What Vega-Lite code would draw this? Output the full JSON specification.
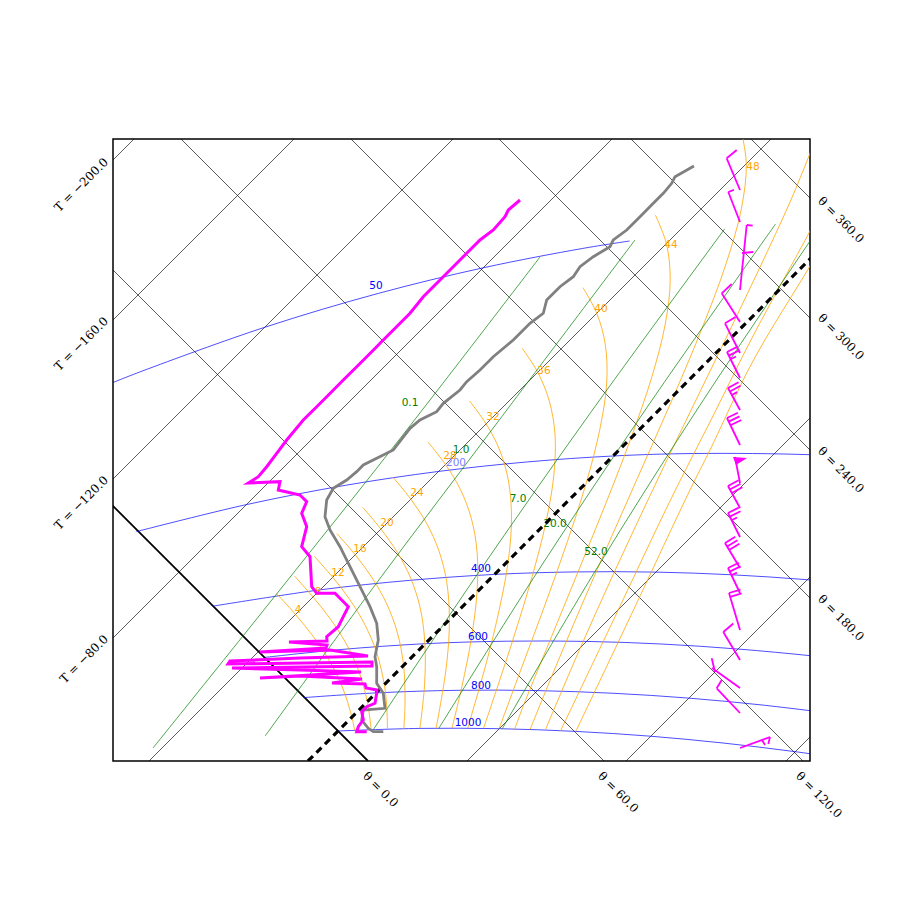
{
  "$schema": "https://vega.github.io/schema/vega-lite/v6.json",
  "width": 697,
  "height": 622,
  "autosize": {"type": "none"},
  "padding": {"left": 113, "top": 139, "right": 90, "bottom": 139},
  "background": "white",
  "config": {"view": {"stroke": "black", "strokeWidth": 1.5}},
  "datasets": {
    "gridThin": [
      {"x": -601, "y": 0, "x2": 21, "y2": 622},
      {"x": -441, "y": 0, "x2": 181, "y2": 622},
      {"x": -282, "y": 0, "x2": 340, "y2": 622},
      {"x": -123, "y": 0, "x2": 499, "y2": 622},
      {"x": 36, "y": 0, "x2": 658, "y2": 622},
      {"x": 354, "y": 0, "x2": 976, "y2": 622},
      {"x": 513, "y": 0, "x2": 1135, "y2": 622},
      {"x": 673, "y": 0, "x2": 1295, "y2": 622},
      {"x": 491, "y": 0, "x2": -131, "y2": 622},
      {"x": 690, "y": 0, "x2": 68, "y2": 622},
      {"x": 860, "y": 0, "x2": 238, "y2": 622},
      {"x": 1008, "y": 0, "x2": 386, "y2": 622},
      {"x": 1140, "y": 0, "x2": 518, "y2": 622},
      {"x": 1260, "y": 0, "x2": 638, "y2": 622}
    ],
    "gridTheta0": [{"x": 255, "y": 0, "x2": -367, "y2": 622}],
    "gridT0": [{"x": 195, "y": 0, "x2": 817, "y2": 622}],
    "isobars": [
      {"p": 1000, "i": 0, "x": 225, "y": 30}, {"p": 1000, "i": 1, "x": 307, "y": 32.6}, {"p": 1000, "i": 2, "x": 386.1, "y": 32.3}, {"p": 1000, "i": 3, "x": 462.8, "y": 29.6}, {"p": 1000, "i": 4, "x": 537.4, "y": 24.8}, {"p": 1000, "i": 5, "x": 610, "y": 18}, {"p": 1000, "i": 6, "x": 680.9, "y": 9.5}, {"p": 1000, "i": 7, "x": 750.3, "y": -0.5},
      {"p": 800, "i": 0, "x": 190.9, "y": 63.4}, {"p": 800, "i": 1, "x": 263.1, "y": 68.1}, {"p": 800, "i": 2, "x": 345.1, "y": 70.7}, {"p": 800, "i": 3, "x": 424.2, "y": 70.4}, {"p": 800, "i": 4, "x": 500.9, "y": 67.7}, {"p": 800, "i": 5, "x": 575.5, "y": 62.9}, {"p": 800, "i": 6, "x": 648.1, "y": 56.1}, {"p": 800, "i": 7, "x": 719, "y": 47.6},
      {"p": 600, "i": 0, "x": 151.7, "y": 103.6}, {"p": 600, "i": 1, "x": 227, "y": 111.4}, {"p": 600, "i": 2, "x": 312.3, "y": 117.3}, {"p": 600, "i": 3, "x": 394.2, "y": 119.8}, {"p": 600, "i": 4, "x": 473.4, "y": 119.6}, {"p": 600, "i": 5, "x": 550.1, "y": 116.9}, {"p": 600, "i": 6, "x": 624.6, "y": 112}, {"p": 600, "i": 7, "x": 697.3, "y": 105.3}, {"p": 600, "i": 8, "x": 732.9, "y": 101.2},
      {"p": 400, "i": 0, "x": 99.7, "y": 154.8}, {"p": 400, "i": 1, "x": 207.4, "y": 171.2}, {"p": 400, "i": 2, "x": 296.3, "y": 180.6}, {"p": 400, "i": 3, "x": 381.6, "y": 186.6}, {"p": 400, "i": 4, "x": 463.5, "y": 189.1}, {"p": 400, "i": 5, "x": 542.7, "y": 188.9}, {"p": 400, "i": 6, "x": 619.4, "y": 186.2}, {"p": 400, "i": 7, "x": 693.9, "y": 181.3}, {"p": 400, "i": 8, "x": 766.6, "y": 174.6},
      {"p": 200, "i": 0, "x": 23.4, "y": 229.4}, {"p": 200, "i": 1, "x": 133.9, "y": 256.5}, {"p": 200, "i": 2, "x": 232.5, "y": 275.7}, {"p": 200, "i": 3, "x": 325.8, "y": 289.6}, {"p": 200, "i": 4, "x": 414.7, "y": 299.1}, {"p": 200, "i": 5, "x": 500, "y": 305}, {"p": 200, "i": 6, "x": 581.9, "y": 307.5}, {"p": 200, "i": 7, "x": 699.7, "y": 306.2}, {"p": 200, "i": 8, "x": 812.3, "y": 299.7},
      {"p": 50, "i": 0, "x": -3.7, "y": 377}, {"p": 50, "i": 1, "x": 29.1, "y": 389.9}, {"p": 50, "i": 2, "x": 152.6, "y": 434}, {"p": 50, "i": 3, "x": 265.7, "y": 467.7}, {"p": 50, "i": 4, "x": 370.7, "y": 493.3}, {"p": 50, "i": 5, "x": 469.3, "y": 512.5}, {"p": 50, "i": 6, "x": 516.6, "y": 520}
    ],
    "mixr": [
      {"w": 0.1, "i": 0, "x": 40, "y": 13}, {"w": 0.1, "i": 1, "x": 162, "y": 165}, {"w": 0.1, "i": 2, "x": 289, "y": 325}, {"w": 0.1, "i": 3, "x": 427, "y": 504},
      {"w": 1, "i": 0, "x": 152.3, "y": 25.2}, {"w": 1, "i": 1, "x": 263.3, "y": 177.6}, {"w": 1, "i": 2, "x": 385.6, "y": 340.1}, {"w": 1, "i": 3, "x": 522, "y": 521},
      {"w": 7, "i": 0, "x": 260.4, "y": 31.5}, {"w": 7, "i": 1, "x": 363.6, "y": 185.6}, {"w": 7, "i": 2, "x": 478.4, "y": 349.5}, {"w": 7, "i": 3, "x": 611.7, "y": 532.1},
      {"w": 20, "i": 0, "x": 325.8, "y": 32.7}, {"w": 20, "i": 1, "x": 423.9, "y": 188.3}, {"w": 20, "i": 2, "x": 533.8, "y": 353.3}, {"w": 20, "i": 3, "x": 662.5, "y": 536.9},
      {"w": 52, "i": 0, "x": 389.2, "y": 32.2}, {"w": 52, "i": 1, "x": 481.8, "y": 189.3}, {"w": 52, "i": 2, "x": 586.9, "y": 355.7}, {"w": 52, "i": 3, "x": 710.9, "y": 540.3}
    ],
    "wadi": [
      {"tw": 4, "i": 0, "x": 241.6, "y": 30.7}, {"tw": 4, "i": 1, "x": 238.9, "y": 43.9}, {"tw": 4, "i": 2, "x": 229.3, "y": 74}, {"tw": 4, "i": 3, "x": 216.2, "y": 100.6}, {"tw": 4, "i": 4, "x": 200.3, "y": 124.4}, {"tw": 4, "i": 5, "x": 182.6, "y": 146.4}, {"tw": 4, "i": 6, "x": 163.8, "y": 167.3},
      {"tw": 8, "i": 0, "x": 258.2, "y": 31.4}, {"tw": 8, "i": 1, "x": 254.3, "y": 59.3}, {"tw": 8, "i": 2, "x": 245.6, "y": 90.3}, {"tw": 8, "i": 3, "x": 233.1, "y": 117.5}, {"tw": 8, "i": 4, "x": 217.6, "y": 141.7}, {"tw": 8, "i": 5, "x": 200.1, "y": 163.9}, {"tw": 8, "i": 6, "x": 181.5, "y": 184.9},
      {"tw": 12, "i": 0, "x": 274.5, "y": 31.9}, {"tw": 12, "i": 1, "x": 273.7, "y": 54.9}, {"tw": 12, "i": 2, "x": 271.3, "y": 76.3}, {"tw": 12, "i": 3, "x": 263.7, "y": 108.4}, {"tw": 12, "i": 4, "x": 251.9, "y": 136.3}, {"tw": 12, "i": 5, "x": 237, "y": 161.1}, {"tw": 12, "i": 6, "x": 219.8, "y": 183.6}, {"tw": 12, "i": 7, "x": 201.3, "y": 204.8},
      {"tw": 16, "i": 0, "x": 290.8, "y": 32.3}, {"tw": 16, "i": 1, "x": 292, "y": 57.3}, {"tw": 16, "i": 2, "x": 290.6, "y": 95.6}, {"tw": 16, "i": 3, "x": 284.2, "y": 128.9}, {"tw": 16, "i": 4, "x": 273.4, "y": 157.8}, {"tw": 16, "i": 5, "x": 259.1, "y": 183.2}, {"tw": 16, "i": 6, "x": 242.3, "y": 206.1}, {"tw": 16, "i": 7, "x": 223.9, "y": 227.4},
      {"tw": 20, "i": 0, "x": 306.9, "y": 32.5}, {"tw": 20, "i": 1, "x": 311.6, "y": 76.9}, {"tw": 20, "i": 2, "x": 311.9, "y": 116.9}, {"tw": 20, "i": 3, "x": 307.4, "y": 152.1}, {"tw": 20, "i": 4, "x": 297.9, "y": 182.3}, {"tw": 20, "i": 5, "x": 284.4, "y": 208.5}, {"tw": 20, "i": 6, "x": 268, "y": 231.8}, {"tw": 20, "i": 7, "x": 249.9, "y": 253.4},
      {"tw": 24, "i": 0, "x": 323, "y": 32.7}, {"tw": 24, "i": 1, "x": 326.7, "y": 52.3}, {"tw": 24, "i": 2, "x": 333.9, "y": 99.2}, {"tw": 24, "i": 3, "x": 336.4, "y": 141.4}, {"tw": 24, "i": 4, "x": 333.8, "y": 178.5}, {"tw": 24, "i": 5, "x": 325.9, "y": 210.3}, {"tw": 24, "i": 6, "x": 313.6, "y": 237.7}, {"tw": 24, "i": 7, "x": 297.9, "y": 261.7}, {"tw": 24, "i": 8, "x": 280.1, "y": 283.6},
      {"tw": 28, "i": 0, "x": 338.9, "y": 32.7}, {"tw": 28, "i": 1, "x": 348.9, "y": 74.5}, {"tw": 28, "i": 2, "x": 358.6, "y": 123.9}, {"tw": 28, "i": 3, "x": 364, "y": 168.9}, {"tw": 28, "i": 4, "x": 364.1, "y": 208.8}, {"tw": 28, "i": 5, "x": 358.3, "y": 242.7}, {"tw": 28, "i": 6, "x": 347.4, "y": 271.5}, {"tw": 28, "i": 7, "x": 332.6, "y": 296.4}, {"tw": 28, "i": 8, "x": 315.2, "y": 318.7},
      {"tw": 32, "i": 0, "x": 354.7, "y": 32.7}, {"tw": 32, "i": 1, "x": 358, "y": 44}, {"tw": 32, "i": 2, "x": 373.6, "y": 99.2}, {"tw": 32, "i": 3, "x": 386.3, "y": 151.6}, {"tw": 32, "i": 4, "x": 395.3, "y": 200.3}, {"tw": 32, "i": 5, "x": 398.5, "y": 243.2}, {"tw": 32, "i": 6, "x": 395.5, "y": 279.9}, {"tw": 32, "i": 7, "x": 386.7, "y": 310.8}, {"tw": 32, "i": 8, "x": 373.2, "y": 337}, {"tw": 32, "i": 9, "x": 356.5, "y": 360},
      {"tw": 36, "i": 0, "x": 370.5, "y": 32.6}, {"tw": 36, "i": 1, "x": 382.6, "y": 68.5}, {"tw": 36, "i": 2, "x": 401.9, "y": 127.5}, {"tw": 36, "i": 3, "x": 419.1, "y": 184.4}, {"tw": 36, "i": 4, "x": 432.7, "y": 237.7}, {"tw": 36, "i": 5, "x": 440.8, "y": 285.5}, {"tw": 36, "i": 6, "x": 442, "y": 326.4}, {"tw": 36, "i": 7, "x": 436.2, "y": 360.3}, {"tw": 36, "i": 8, "x": 424.8, "y": 388.6}, {"tw": 36, "i": 9, "x": 409.2, "y": 412.7},
      {"tw": 40, "i": 0, "x": 386.1, "y": 32.3}, {"tw": 40, "i": 1, "x": 409.3, "y": 95.2}, {"tw": 40, "i": 2, "x": 432.8, "y": 158.3}, {"tw": 40, "i": 3, "x": 454.5, "y": 219.8}, {"tw": 40, "i": 4, "x": 473.3, "y": 278.3}, {"tw": 40, "i": 5, "x": 486.8, "y": 331.5}, {"tw": 40, "i": 6, "x": 493.7, "y": 378.1}, {"tw": 40, "i": 7, "x": 492.3, "y": 416.4}, {"tw": 40, "i": 8, "x": 483.8, "y": 447.6}, {"tw": 40, "i": 9, "x": 469.9, "y": 473.4},
      {"tw": 44, "i": 0, "x": 401.6, "y": 31.9}, {"tw": 44, "i": 1, "x": 411.2, "y": 57.4}, {"tw": 44, "i": 2, "x": 438.6, "y": 124.5}, {"tw": 44, "i": 3, "x": 466.1, "y": 191.7}, {"tw": 44, "i": 4, "x": 493.2, "y": 258.5}, {"tw": 44, "i": 5, "x": 518, "y": 323}, {"tw": 44, "i": 6, "x": 538.6, "y": 383.3}, {"tw": 44, "i": 7, "x": 552.2, "y": 436.6}, {"tw": 44, "i": 8, "x": 557.2, "y": 481.3}, {"tw": 44, "i": 9, "x": 553.4, "y": 517.3}, {"tw": 44, "i": 10, "x": 542.4, "y": 545.9},
      {"tw": 48, "i": 0, "x": 417.1, "y": 31.5}, {"tw": 48, "i": 1, "x": 438.9, "y": 85.1}, {"tw": 48, "i": 2, "x": 467.8, "y": 153.7}, {"tw": 48, "i": 3, "x": 498.5, "y": 224.1}, {"tw": 48, "i": 4, "x": 529.9, "y": 295.2}, {"tw": 48, "i": 5, "x": 561.3, "y": 366.3}, {"tw": 48, "i": 6, "x": 589.7, "y": 434.4}, {"tw": 48, "i": 7, "x": 613.2, "y": 497.6}, {"tw": 48, "i": 8, "x": 628.4, "y": 552.4}, {"tw": 48, "i": 9, "x": 633.3, "y": 597}, {"tw": 48, "i": 10, "x": 628, "y": 631.8},
      {"tw": 52, "i": 0, "x": 432.4, "y": 31}, {"tw": 52, "i": 1, "x": 438, "y": 44.5}, {"tw": 52, "i": 2, "x": 467.6, "y": 113.8}, {"tw": 52, "i": 3, "x": 499.9, "y": 185.8}, {"tw": 52, "i": 4, "x": 534.5, "y": 260.1}, {"tw": 52, "i": 5, "x": 571, "y": 336.3}, {"tw": 52, "i": 6, "x": 608.5, "y": 413.5}, {"tw": 52, "i": 7, "x": 645.2, "y": 490}, {"tw": 52, "i": 8, "x": 678.9, "y": 563.3}, {"tw": 52, "i": 9, "x": 705.9, "y": 630.1},
      {"tw": 56, "i": 0, "x": 447.6, "y": 30.3}, {"tw": 56, "i": 1, "x": 500, "y": 140}, {"tw": 56, "i": 2, "x": 558, "y": 262}, {"tw": 56, "i": 3, "x": 600, "y": 345}, {"tw": 56, "i": 4, "x": 640, "y": 425}, {"tw": 56, "i": 5, "x": 697, "y": 530}, {"tw": 56, "i": 6, "x": 720, "y": 575},
      {"tw": 60, "i": 0, "x": 462.8, "y": 29.6}, {"tw": 60, "i": 1, "x": 520, "y": 150}, {"tw": 60, "i": 2, "x": 577, "y": 271}, {"tw": 60, "i": 3, "x": 597, "y": 311}, {"tw": 60, "i": 4, "x": 640, "y": 400}, {"tw": 60, "i": 5, "x": 697, "y": 495}, {"tw": 60, "i": 6, "x": 720, "y": 535}
    ],
    "temp": [
      {"i": 0, "x": 581, "y": 595}, {"i": 1, "x": 562, "y": 584.3}, {"i": 2, "x": 558.7, "y": 577.7}, {"i": 3, "x": 550.3, "y": 567.7}, {"i": 4, "x": 540.3, "y": 557.7}, {"i": 5, "x": 527, "y": 544.3}, {"i": 6, "x": 513.7, "y": 531}, {"i": 7, "x": 500.3, "y": 521}, {"i": 8, "x": 497, "y": 514.3}, {"i": 9, "x": 480.3, "y": 504.3},
      {"i": 10, "x": 467, "y": 494.3}, {"i": 11, "x": 460.3, "y": 484.3}, {"i": 12, "x": 447, "y": 474.3}, {"i": 13, "x": 433.7, "y": 461}, {"i": 14, "x": 430.3, "y": 447.7}, {"i": 15, "x": 417, "y": 437.7}, {"i": 16, "x": 400.3, "y": 421}, {"i": 17, "x": 380.3, "y": 404.3}, {"i": 18, "x": 367, "y": 391}, {"i": 19, "x": 353.7, "y": 379.3},
      {"i": 20, "x": 347, "y": 371}, {"i": 21, "x": 330.3, "y": 357.7}, {"i": 22, "x": 323.7, "y": 349.3}, {"i": 23, "x": 307, "y": 341}, {"i": 24, "x": 297, "y": 332.7}, {"i": 25, "x": 280.3, "y": 311}, {"i": 26, "x": 263.7, "y": 302.7}, {"i": 27, "x": 250.3, "y": 296}, {"i": 28, "x": 243.7, "y": 289.3}, {"i": 29, "x": 233.7, "y": 281},
      {"i": 30, "x": 220.3, "y": 272.7}, {"i": 31, "x": 213.7, "y": 261}, {"i": 32, "x": 212, "y": 244.3}, {"i": 33, "x": 217, "y": 231}, {"i": 34, "x": 227, "y": 214.3}, {"i": 35, "x": 237, "y": 194.3}, {"i": 36, "x": 247, "y": 174.3}, {"i": 37, "x": 257, "y": 154.3}, {"i": 38, "x": 263.7, "y": 137.7}, {"i": 39, "x": 265.3, "y": 121},
      {"i": 40, "x": 262, "y": 104.3}, {"i": 41, "x": 263.7, "y": 94.3}, {"i": 42, "x": 263.7, "y": 77.7}, {"i": 43, "x": 270.3, "y": 67.7}, {"i": 44, "x": 272, "y": 52.7}, {"i": 45, "x": 250.3, "y": 51}, {"i": 46, "x": 248.7, "y": 41}, {"i": 47, "x": 255.3, "y": 32.7}, {"i": 48, "x": 260.3, "y": 29.3}, {"i": 49, "x": 270.3, "y": 29.3}
    ],
    "dewp": [
      {"i": 0, "x": 407, "y": 561}, {"i": 1, "x": 395.3, "y": 551}, {"i": 2, "x": 392, "y": 544.3}, {"i": 3, "x": 380.3, "y": 531}, {"i": 4, "x": 367, "y": 521}, {"i": 5, "x": 353.7, "y": 507.7}, {"i": 6, "x": 337, "y": 491}, {"i": 7, "x": 327, "y": 481}, {"i": 8, "x": 310.3, "y": 464.3}, {"i": 9, "x": 297, "y": 447.7},
      {"i": 10, "x": 280.3, "y": 431}, {"i": 11, "x": 267, "y": 417.7}, {"i": 12, "x": 263.7, "y": 414.3}, {"i": 13, "x": 243.7, "y": 394.3}, {"i": 14, "x": 230.3, "y": 381}, {"i": 15, "x": 213.7, "y": 364.3}, {"i": 16, "x": 203.7, "y": 354.3}, {"i": 17, "x": 190.3, "y": 341}, {"i": 18, "x": 173.7, "y": 321}, {"i": 19, "x": 163.7, "y": 307.7},
      {"i": 20, "x": 153.7, "y": 294.3}, {"i": 21, "x": 145.3, "y": 284.3}, {"i": 22, "x": 135.3, "y": 278}, {"i": 23, "x": 167, "y": 279.3}, {"i": 24, "x": 165.3, "y": 271}, {"i": 25, "x": 187, "y": 266}, {"i": 26, "x": 193.7, "y": 259.3}, {"i": 27, "x": 188.7, "y": 247.7}, {"i": 28, "x": 193.7, "y": 234.3}, {"i": 29, "x": 188.7, "y": 214.3},
      {"i": 30, "x": 197, "y": 204.3}, {"i": 31, "x": 198.7, "y": 174.3}, {"i": 32, "x": 203.7, "y": 167.7}, {"i": 33, "x": 222, "y": 167.7}, {"i": 34, "x": 235.3, "y": 154.3}, {"i": 35, "x": 230.3, "y": 144.3}, {"i": 36, "x": 225.3, "y": 134.3}, {"i": 37, "x": 213.7, "y": 124.3}, {"i": 38, "x": 214, "y": 120}, {"i": 39, "x": 176, "y": 119},
      {"i": 40, "x": 214, "y": 116}, {"i": 41, "x": 213, "y": 113}, {"i": 42, "x": 147, "y": 109}, {"i": 43, "x": 217, "y": 111}, {"i": 44, "x": 255, "y": 105}, {"i": 45, "x": 187, "y": 103}, {"i": 46, "x": 117, "y": 100}, {"i": 47, "x": 115, "y": 97}, {"i": 48, "x": 259, "y": 99}, {"i": 49, "x": 259, "y": 95},
      {"i": 50, "x": 119, "y": 93}, {"i": 51, "x": 187, "y": 91}, {"i": 52, "x": 248, "y": 89}, {"i": 53, "x": 147, "y": 83}, {"i": 54, "x": 187, "y": 85}, {"i": 55, "x": 249, "y": 82}, {"i": 56, "x": 219, "y": 78}, {"i": 57, "x": 252, "y": 77}, {"i": 58, "x": 253, "y": 73}, {"i": 59, "x": 264, "y": 71},
      {"i": 60, "x": 263.7, "y": 67.7}, {"i": 61, "x": 262, "y": 57.7}, {"i": 62, "x": 253.7, "y": 54.3}, {"i": 63, "x": 248.7, "y": 49.3}, {"i": 64, "x": 250.3, "y": 41}, {"i": 65, "x": 245.3, "y": 34.3}, {"i": 66, "x": 243.7, "y": 29.3}, {"i": 67, "x": 253.7, "y": 29.3}
    ],
    "barbs": [
      {"x": 627, "y": 571, "x2": 613.7, "y2": 602.7}, {"x": 613.7, "y": 602.7, "x2": 623.7, "y2": 611},
      {"x": 627, "y": 539, "x2": 615.3, "y2": 569}, {"x": 615.3, "y": 569, "x2": 620.9, "y2": 571.2},
      {"x": 627, "y": 471, "x2": 633.7, "y2": 536}, {"x": 633.7, "y": 536, "x2": 639.7, "y2": 535.4}, {"x": 629, "y": 508, "x2": 640.3, "y2": 509},
      {"x": 627, "y": 439, "x2": 608.7, "y2": 467.7}, {"x": 608.7, "y": 467.7, "x2": 618.7, "y2": 477},
      {"x": 627, "y": 408, "x2": 612, "y2": 437.7}, {"x": 612, "y": 437.7, "x2": 622.5, "y2": 444},
      {"x": 627, "y": 383, "x2": 614, "y2": 409}, {"x": 614, "y": 409, "x2": 624.7, "y2": 414.4}, {"x": 615.8, "y": 405.4, "x2": 626.5, "y2": 410.8}, {"x": 617.6, "y": 401.8, "x2": 623, "y2": 404.5},
      {"x": 627, "y": 351, "x2": 615, "y2": 373}, {"x": 615, "y": 373, "x2": 625.6, "y2": 378.8}, {"x": 616.9, "y": 369.5, "x2": 627.5, "y2": 375.3}, {"x": 618.8, "y": 366, "x2": 624.1, "y2": 368.9},
      {"x": 627, "y": 316, "x2": 614, "y2": 343}, {"x": 614, "y": 343, "x2": 624.8, "y2": 348.2}, {"x": 615.7, "y": 339.4, "x2": 626.5, "y2": 344.6}, {"x": 617.5, "y": 335.8, "x2": 628.3, "y2": 341},
      {"x": 627, "y": 278, "x2": 622, "y2": 304},
      {"x": 627, "y": 253, "x2": 615, "y2": 275}, {"x": 615, "y": 275, "x2": 625.6, "y2": 280.8}, {"x": 616.9, "y": 271.5, "x2": 627.5, "y2": 277.3}, {"x": 618.8, "y": 268, "x2": 629.4, "y2": 273.8},
      {"x": 627, "y": 224, "x2": 615, "y2": 248}, {"x": 615, "y": 248, "x2": 625.7, "y2": 253.4}, {"x": 616.8, "y": 244.4, "x2": 627.5, "y2": 249.8}, {"x": 618.6, "y": 240.8, "x2": 624, "y2": 243.5},
      {"x": 627, "y": 193, "x2": 612, "y2": 218}, {"x": 612, "y": 218, "x2": 622.3, "y2": 224.2}, {"x": 614.1, "y": 214.6, "x2": 624.4, "y2": 220.8}, {"x": 616.1, "y": 211.1, "x2": 626.4, "y2": 217.3},
      {"x": 627, "y": 168, "x2": 615, "y2": 193}, {"x": 615, "y": 193, "x2": 625.8, "y2": 198.2}, {"x": 616.7, "y": 189.4, "x2": 627.5, "y2": 194.6}, {"x": 618.5, "y": 185.8, "x2": 623.9, "y2": 188.4},
      {"x": 627, "y": 131, "x2": 616, "y2": 168}, {"x": 616, "y": 168, "x2": 627.5, "y2": 171.4}, {"x": 617.1, "y": 164.2, "x2": 628.6, "y2": 167.6},
      {"x": 627, "y": 101, "x2": 610.3, "y2": 129}, {"x": 610.3, "y": 129, "x2": 620.3, "y2": 137.5},
      {"x": 627, "y": 73, "x2": 599, "y2": 93}, {"x": 602, "y": 89, "x2": 598.7, "y2": 102.7},
      {"x": 627, "y": 48, "x2": 603.7, "y2": 72.7}, {"x": 603.7, "y": 72.7, "x2": 608.7, "y2": 81},
      {"x": 627, "y": 13, "x2": 657, "y2": 24}, {"x": 657, "y": 24, "x2": 655.3, "y2": 17}, {"x": 649, "y": 21, "x2": 652, "y2": 16}
    ],
    "pennant": [{"x": 627, "y": 300}],
    "lineLabels": [
      {"t": "1000", "k": "isobar", "x": 355, "y": 38}, {"t": "800", "k": "isobar", "x": 368, "y": 75}, {"t": "600", "k": "isobar", "x": 365, "y": 124}, {"t": "400", "k": "isobar", "x": 368, "y": 192}, {"t": "200", "k": "isobarFaint", "x": 343, "y": 298}, {"t": "50", "k": "isobar", "x": 263, "y": 475},
      {"t": "0.1", "k": "mix", "x": 297, "y": 358}, {"t": "1.0", "k": "mix", "x": 348, "y": 311}, {"t": "7.0", "k": "mix", "x": 405, "y": 262}, {"t": "20.0", "k": "mix", "x": 442, "y": 237}, {"t": "52.0", "k": "mix", "x": 483, "y": 209},
      {"t": "4", "k": "wadi", "x": 185, "y": 151}, {"t": "8", "k": "wadi", "x": 205, "y": 169}, {"t": "12", "k": "wadi", "x": 225, "y": 188}, {"t": "16", "k": "wadi", "x": 247, "y": 212}, {"t": "20", "k": "wadi", "x": 274, "y": 238}, {"t": "24", "k": "wadi", "x": 304, "y": 268}, {"t": "28", "k": "wadi", "x": 337, "y": 305}, {"t": "32", "k": "wadi", "x": 380, "y": 344}, {"t": "36", "k": "wadi", "x": 431, "y": 390}, {"t": "40", "k": "wadi", "x": 488, "y": 452}, {"t": "44", "k": "wadi", "x": 558, "y": 516}, {"t": "48", "k": "wadi", "x": 640, "y": 594}
    ],
    "tLabels": [
      {"t": "T = −200.0", "x": -7, "y": 601}, {"t": "T = −160.0", "x": -7, "y": 442}, {"t": "T = −120.0", "x": -7, "y": 283}, {"t": "T = −80.0", "x": -7, "y": 124}
    ],
    "thetaRight": [
      {"t": "θ = 360.0", "x": 707, "y": 562}, {"t": "θ = 300.0", "x": 707, "y": 445}, {"t": "θ = 240.0", "x": 707, "y": 312}, {"t": "θ = 180.0", "x": 707, "y": 164}
    ],
    "thetaBottom": [
      {"t": "θ = 0.0", "x": 252, "y": -13}, {"t": "θ = 60.0", "x": 487, "y": -13}, {"t": "θ = 120.0", "x": 685, "y": -13}
    ]
  },
  "encoding": {
    "x": {"field": "x", "type": "quantitative", "scale": {"domain": [0, 697], "nice": false, "zero": false}, "axis": null},
    "y": {"field": "y", "type": "quantitative", "scale": {"domain": [0, 622], "nice": false, "zero": false}, "axis": null}
  },
  "layer": [
    {
      "data": {"name": "gridThin"},
      "mark": {"type": "rule", "color": "#000000", "strokeWidth": 0.75, "opacity": 0.85, "clip": true},
      "encoding": {"x2": {"field": "x2"}, "y2": {"field": "y2"}}
    },
    {
      "data": {"name": "gridTheta0"},
      "mark": {"type": "rule", "color": "#000000", "strokeWidth": 1.8, "clip": true},
      "encoding": {"x2": {"field": "x2"}, "y2": {"field": "y2"}}
    },
    {
      "data": {"name": "isobars"},
      "mark": {"type": "line", "color": "#0000ff", "strokeWidth": 0.7, "interpolate": "catmull-rom", "clip": true},
      "encoding": {"detail": {"field": "p", "type": "nominal"}, "order": {"field": "i", "type": "quantitative"}}
    },
    {
      "data": {"name": "wadi"},
      "mark": {"type": "line", "color": "#ffa500", "strokeWidth": 0.8, "interpolate": "catmull-rom", "clip": true},
      "encoding": {"detail": {"field": "tw", "type": "nominal"}, "order": {"field": "i", "type": "quantitative"}}
    },
    {
      "data": {"name": "mixr"},
      "mark": {"type": "line", "color": "#008000", "strokeWidth": 0.7, "interpolate": "catmull-rom", "clip": true},
      "encoding": {"detail": {"field": "w", "type": "nominal"}, "order": {"field": "i", "type": "quantitative"}}
    },
    {
      "data": {"name": "lineLabels"},
      "mark": {"type": "text", "font": "DejaVu Sans", "fontSize": 10.5, "align": "center", "baseline": "middle"},
      "encoding": {
        "text": {"field": "t"},
        "color": {"field": "k", "type": "nominal", "scale": {"domain": ["isobar", "isobarFaint", "mix", "wadi"], "range": ["#0000ff", "#7f7fff", "#008000", "#ffa500"]}, "legend": null}
      }
    },
    {
      "data": {"name": "gridT0"},
      "mark": {"type": "rule", "color": "#000000", "strokeWidth": 3.2, "strokeDash": [7, 5], "clip": true},
      "encoding": {"x2": {"field": "x2"}, "y2": {"field": "y2"}}
    },
    {
      "data": {"name": "temp"},
      "mark": {"type": "line", "color": "#808080", "strokeWidth": 2.8, "clip": true},
      "encoding": {"order": {"field": "i", "type": "quantitative"}}
    },
    {
      "data": {"name": "dewp"},
      "mark": {"type": "line", "color": "#ff00ff", "strokeWidth": 3, "clip": true},
      "encoding": {"order": {"field": "i", "type": "quantitative"}}
    },
    {
      "data": {"name": "barbs"},
      "mark": {"type": "rule", "color": "#ff00ff", "strokeWidth": 1.8, "clip": true},
      "encoding": {"x2": {"field": "x2"}, "y2": {"field": "y2"}}
    },
    {
      "data": {"name": "pennant"},
      "mark": {"type": "point", "shape": "M-1,-0.57L1,-0.43L-0.57,0.57Z", "size": 196, "filled": true, "color": "#ff00ff", "opacity": 1, "strokeWidth": 0}
    },
    {
      "data": {"name": "tLabels"},
      "mark": {"type": "text", "font": "DejaVu Serif", "fontSize": 12, "angle": -45, "align": "right", "baseline": "middle", "color": "#000000"},
      "encoding": {"text": {"field": "t"}}
    },
    {
      "data": {"name": "thetaRight"},
      "mark": {"type": "text", "font": "DejaVu Serif", "fontSize": 12, "angle": 45, "align": "left", "baseline": "middle", "color": "#000000"},
      "encoding": {"text": {"field": "t"}}
    },
    {
      "data": {"name": "thetaBottom"},
      "mark": {"type": "text", "font": "DejaVu Serif", "fontSize": 12, "angle": 45, "align": "left", "baseline": "middle", "color": "#000000"},
      "encoding": {"text": {"field": "t"}}
    }
  ]
}
